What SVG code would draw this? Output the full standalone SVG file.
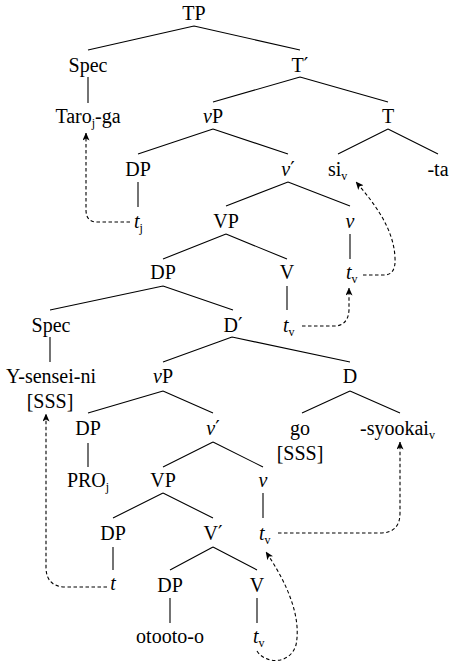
<svg xmlns="http://www.w3.org/2000/svg" width="450" height="662" viewBox="0 0 450 662">
<defs>
<marker id="ah" markerWidth="8" markerHeight="7" refX="7.5" refY="3.5" orient="auto" markerUnits="userSpaceOnUse">
<path d="M0,0 L8,3.5 L0,7 L2,3.5 Z" fill="#000"/>
</marker>
</defs>
<rect width="450" height="662" fill="#fff"/>
<g id="connectors" stroke="#000" stroke-width="1.1" fill="none">
<path d="M194 26L88 50M194 26L300 50"/>
<path d="M88 77V103"/>
<path d="M300 77L213 102M300 77L388 102"/>
<path d="M213 129L138 154M213 129L288 154"/>
<path d="M388 129L338 154M388 129L438 154"/>
<path d="M138 182V207"/>
<path d="M288 182L226 206M288 182L350 206"/>
<path d="M226 234L163 259M226 234L287 259"/>
<path d="M350 234V259"/>
<path d="M163 286L50 310M163 286L233 310"/>
<path d="M287 286V310"/>
<path d="M232 337L163 362M232 337L350 362"/>
<path d="M50 337V362"/>
<path d="M163 391L88 413M163 391L213 413"/>
<path d="M350 391L302 413M350 391L400 413"/>
<path d="M88 443V467"/>
<path d="M213 442L163 467M213 442L263 467"/>
<path d="M163 493L113 518M163 493L213 518"/>
<path d="M263 493V518"/>
<path d="M113 547V570"/>
<path d="M213 547L170 570M213 547L257 570"/>
<path d="M170 598V623"/>
<path d="M257 598V623"/>
<g stroke-dasharray="3.5 2.5" marker-end="url(#ah)">
<path d="M130 222H97Q86 222 86 210V133"/>
<path d="M363 275H384Q396 275 395 258C394 230 376 205 356 182"/>
<path d="M302 326H334Q348 326 349 310V288"/>
<path d="M107 587H66Q46 587 46 567V414"/>
<path d="M278 533H380Q400 533 400 513V442"/>
<path d="M257 651C265 664 290 665 296 645C302 615 285 580 266 552"/>
</g>
</g>
<g id="n-TP"><text font-family="Liberation Serif" font-size="20" text-anchor="middle" x="194" y="20">TP</text></g>
<g id="n-Spec1"><text font-family="Liberation Serif" font-size="20" text-anchor="middle" x="88" y="72">Spec</text></g>
<g id="n-Tbar"><text font-family="Liberation Serif" font-size="20" text-anchor="middle" x="300" y="72">T<tspan font-family="DejaVu Serif">′</tspan></text></g>
<g id="n-Taro"><text font-family="Liberation Serif" font-size="20" text-anchor="middle" x="88" y="123">Taro<tspan font-size="12" dy="4">j</tspan><tspan dy="-4">-ga</tspan></text></g>
<g id="n-vP1"><text font-family="Liberation Serif" font-size="20" text-anchor="middle" x="213" y="123"><tspan font-style="italic">v</tspan>P</text></g>
<g id="n-T"><text font-family="Liberation Serif" font-size="20" text-anchor="middle" x="388" y="123">T</text></g>
<g id="n-DP1"><text font-family="Liberation Serif" font-size="20" text-anchor="middle" x="138" y="176">DP</text></g>
<g id="n-vbar1"><text font-family="Liberation Serif" font-size="20" text-anchor="middle" x="288" y="176"><tspan font-style="italic">v</tspan><tspan font-family="DejaVu Serif">′</tspan></text></g>
<g id="n-si"><text font-family="Liberation Serif" font-size="20" x="328" y="176">si<tspan font-size="12" dy="4">v</tspan></text></g>
<g id="n-ta"><text font-family="Liberation Serif" font-size="20" text-anchor="middle" x="438" y="176">-ta</text></g>
<g id="n-tj"><text font-family="Liberation Serif" font-size="20" x="134" y="228"><tspan font-style="italic">t</tspan><tspan font-size="12" dy="4">j</tspan></text></g>
<g id="n-VP1"><text font-family="Liberation Serif" font-size="20" text-anchor="middle" x="226" y="228">VP</text></g>
<g id="n-v1"><text font-family="Liberation Serif" font-size="20" text-anchor="middle" font-style="italic" x="350" y="228">v</text></g>
<g id="n-DP2"><text font-family="Liberation Serif" font-size="20" text-anchor="middle" x="163" y="279">DP</text></g>
<g id="n-V1"><text font-family="Liberation Serif" font-size="20" text-anchor="middle" x="287" y="279">V</text></g>
<g id="n-tv1"><text font-family="Liberation Serif" font-size="20" x="346" y="279"><tspan font-style="italic">t</tspan><tspan font-size="12" dy="4">v</tspan></text></g>
<g id="n-Spec2"><text font-family="Liberation Serif" font-size="20" text-anchor="middle" x="51" y="332">Spec</text></g>
<g id="n-Dbar"><text font-family="Liberation Serif" font-size="20" text-anchor="middle" x="233" y="332">D<tspan font-family="DejaVu Serif">′</tspan></text></g>
<g id="n-tv2"><text font-family="Liberation Serif" font-size="20" x="283" y="332"><tspan font-style="italic">t</tspan><tspan font-size="12" dy="4">v</tspan></text></g>
<g id="n-Ysensei"><text font-family="Liberation Serif" font-size="20" text-anchor="middle" x="51" y="383">Y-sensei-ni</text><text font-family="Liberation Serif" font-size="20" text-anchor="middle" x="50" y="408">[SSS]</text></g>
<g id="n-vP2"><text font-family="Liberation Serif" font-size="20" text-anchor="middle" x="163" y="383"><tspan font-style="italic">v</tspan>P</text></g>
<g id="n-D"><text font-family="Liberation Serif" font-size="20" text-anchor="middle" x="350" y="383">D</text></g>
<g id="n-DP3"><text font-family="Liberation Serif" font-size="20" text-anchor="middle" x="88" y="435">DP</text></g>
<g id="n-vbar2"><text font-family="Liberation Serif" font-size="20" text-anchor="middle" x="213" y="435"><tspan font-style="italic">v</tspan><tspan font-family="DejaVu Serif">′</tspan></text></g>
<g id="n-go"><text font-family="Liberation Serif" font-size="20" text-anchor="middle" x="300" y="435">go</text><text font-family="Liberation Serif" font-size="20" text-anchor="middle" x="300" y="460">[SSS]</text></g>
<g id="n-syookai"><text font-family="Liberation Serif" font-size="20" x="360" y="435">-syookai<tspan font-size="12" dy="4">v</tspan></text></g>
<g id="n-PRO"><text font-family="Liberation Serif" font-size="20" text-anchor="middle" x="88" y="487">PRO<tspan font-size="12" dy="4">j</tspan></text></g>
<g id="n-VP2"><text font-family="Liberation Serif" font-size="20" text-anchor="middle" x="163" y="487">VP</text></g>
<g id="n-v2"><text font-family="Liberation Serif" font-size="20" text-anchor="middle" font-style="italic" x="263" y="487">v</text></g>
<g id="n-DP4"><text font-family="Liberation Serif" font-size="20" text-anchor="middle" x="113" y="540">DP</text></g>
<g id="n-Vbar"><text font-family="Liberation Serif" font-size="20" text-anchor="middle" x="213" y="540">V<tspan font-family="DejaVu Serif">′</tspan></text></g>
<g id="n-tv3"><text font-family="Liberation Serif" font-size="20" x="259" y="540"><tspan font-style="italic">t</tspan><tspan font-size="12" dy="4">v</tspan></text></g>
<g id="n-t"><text font-family="Liberation Serif" font-size="20" text-anchor="middle" font-style="italic" x="113" y="590">t</text></g>
<g id="n-DP5"><text font-family="Liberation Serif" font-size="20" text-anchor="middle" x="170" y="592">DP</text></g>
<g id="n-V2"><text font-family="Liberation Serif" font-size="20" text-anchor="middle" x="257" y="592">V</text></g>
<g id="n-otooto"><text font-family="Liberation Serif" font-size="20" text-anchor="middle" x="170" y="643">otooto-o</text></g>
<g id="n-tv4"><text font-family="Liberation Serif" font-size="20" x="253" y="643"><tspan font-style="italic">t</tspan><tspan font-size="12" dy="4">v</tspan></text></g>
</svg>
